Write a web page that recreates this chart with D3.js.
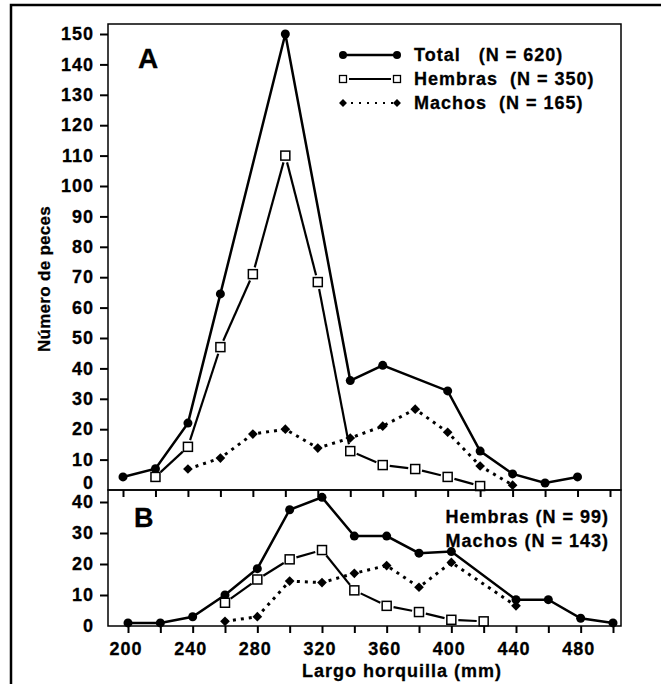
<!DOCTYPE html>
<html>
<head>
<meta charset="utf-8">
<script src="https://cdn.jsdelivr.net/npm/d3@7"></script>
<style>
body { margin: 0; background: #fff; }
text { font-family: "Liberation Sans", Arial, sans-serif; font-weight: bold; fill: #000; stroke: #000; stroke-width: 0.3px; }
</style>
</head>
<body>
<script>
// panel A: length classes and counts
const lengthsA = [200, 220, 240, 260, 280, 300, 320, 340, 360, 380, 400, 420, 440, 460, 480];
const totalA   = [4.3, 7, 22, 64.5, null, 150, null, 36, 41, null, 32.6, 12.8, 5.3, 2.3, 4.3];
const hembrasA = [null, 4.3, 14.2, 47, 71, 110, 68.4, 12.8, 8.2, 6.9, 4.3, 1.3, null, null, null];
const machosA  = [null, null, 6.9, 10.5, 18.4, 20, 13.8, 17.1, 21, 26.6, 19, 7.9, 1.6, null, null];

// panel B
const lengthsB = [200, 220, 240, 260, 280, 300, 320, 340, 360, 380, 400, 420, 440, 460, 480, 500];
const totalB   = [1, 1, 3, 10, 18.5, 37.5, 41.5, 29, 29, 23.5, 24, null, 8.5, 8.5, 2.5, 1];
const hembrasB = [null, null, null, 7.5, 15, 21.5, 24.5, 11.5, 6.5, 4.5, 2, 1.5, null, null, null, null];
const machosB  = [null, null, null, 1.5, 3, 14.5, 14, 17, 19.5, 12.5, 20.5, null, 6.5, null, null, null];

const yTicksA = [0, 10, 20, 30, 40, 50, 60, 70, 80, 90, 100, 110, 120, 130, 140, 150];
const yTicksB = [0, 10, 20, 30, 40];
const xLabels = [200, 240, 280, 320, 360, 400, 440, 480];

const legendA = [
    {key: 'total', label: 'Total   (N = 620)'},
    {key: 'hembras', label: 'Hembras  (N = 350)'},
    {key: 'machos', label: 'Machos  (N = 165)'}
];
const legendB = ['Hembras (N = 99)', 'Machos (N = 143)'];

const svg = d3.select('body').append('svg')
    .attr('width', 661)
    .attr('height', 684);

// outer frame
svg.append('rect')
    .attr('x', 11).attr('y', 5)
    .attr('width', 700).attr('height', 700)
    .attr('fill', 'none').attr('stroke', '#000').attr('stroke-width', 2.5);

const xA = d3.scaleLinear().domain([200, 500]).range([123, 610]);
const yA = d3.scaleLinear().domain([0, 150]).range([490, 34]);
const xB = d3.scaleLinear().domain([200, 500]).range([128, 613]);
const yB = d3.scaleLinear().domain([0, 40]).range([626, 502]);

const toPoints = (xs, ys) => xs.map((x, i) => ({x, y: ys[i]})).filter((d) => d.y !== null);

// bitmap-like bold font: Arial bold with a bit of extra tracking
const label = (sel, size) => sel.style('font-size', `${size}px`).style('letter-spacing', '1px');

function styleAxis(g) {
    g.select('.domain').remove();
    g.selectAll('.tick line').attr('stroke', '#000').attr('stroke-width', 2);
    g.selectAll('.tick text').attr('fill', '#000').call(label, 18);
}

function drawPanel(x, y, yTicks, top, series) {
    const g = svg.append('g');
    const [x0, x1] = [108, 621];
    const yb = y.range()[0];

    g.append('rect')
        .attr('x', x0).attr('y', top)
        .attr('width', x1 - x0).attr('height', yb - top)
        .attr('fill', 'none').attr('stroke', '#000').attr('stroke-width', 1.5);

    // y axis
    const ya = g.append('g')
        .attr('transform', `translate(${x0},0)`)
        .call(d3.axisLeft(y).tickValues(yTicks).tickSize(8).tickPadding(6))
        .call(styleAxis);
    ya.selectAll('.tick').filter((d) => d === 0).select('line').remove();

    // x ticks
    g.append('g')
        .attr('transform', `translate(0,${yb})`)
        .call(d3.axisBottom(x).tickValues(lengthsB).tickSize(7).tickFormat(''))
        .call(styleAxis);

    const line = d3.line().x((d) => x(d.x)).y((d) => y(d.y));

    // total
    const tot = toPoints(series.xs, series.total);
    g.append('path').datum(tot)
        .attr('d', line).attr('fill', 'none')
        .attr('stroke', '#000').attr('stroke-width', 2.5);

    // machos dotted
    const mac = toPoints(series.xs, series.machos);
    g.append('path').datum(mac)
        .attr('d', line).attr('fill', 'none')
        .attr('stroke', '#000').attr('stroke-width', 3)
        .attr('stroke-dasharray', '3,5');

    // hembras: segments with gaps at the markers
    const hem = toPoints(series.xs, series.hembras);
    const gap = 7;
    d3.pairs(hem).forEach(([p, q]) => {
        const ax = x(p.x), ay = y(p.y), bx = x(q.x), by = y(q.y);
        const len = Math.hypot(bx - ax, by - ay);
        if (len <= gap * 2 + 2) return;
        const ux = (bx - ax) / len, uy = (by - ay) / len;
        g.append('line')
            .attr('x1', ax + ux * gap).attr('y1', ay + uy * gap)
            .attr('x2', bx - ux * gap).attr('y2', by - uy * gap)
            .attr('stroke', '#000').attr('stroke-width', 2.2);
    });

    // markers
    g.selectAll('.m-total').data(tot).enter().append('circle')
        .attr('cx', (d) => x(d.x)).attr('cy', (d) => y(d.y))
        .attr('r', 4.5).attr('fill', '#000');
    g.selectAll('.m-mac').data(mac).enter().append('path')
        .attr('d', d3.symbol(d3.symbolDiamond2, 60))
        .attr('transform', (d) => `translate(${x(d.x)},${y(d.y)})`)
        .attr('fill', '#000');
    g.selectAll('.m-hem').data(hem).enter().append('rect')
        .attr('x', (d) => x(d.x) - 4.5).attr('y', (d) => y(d.y) - 4.5)
        .attr('width', 9).attr('height', 9)
        .attr('fill', '#fff').attr('stroke', '#000').attr('stroke-width', 1.5);

    return ya;
}

const yaA = drawPanel(xA, yA, yTicksA, 24, {xs: lengthsA, total: totalA, hembras: hembrasA, machos: machosA});
// the 0 label of panel A sits a little higher
yaA.selectAll('.tick').filter((d) => d === 0).select('text').attr('dy', '-0.1em');

drawPanel(xB, yB, yTicksB, 490, {xs: lengthsB, total: totalB, hembras: hembrasB, machos: machosB});

// x tick labels (panel B)
svg.append('g').selectAll('text').data(xLabels).enter().append('text')
    .attr('x', (d) => xB(d) - 2).attr('y', 655)
    .attr('text-anchor', 'middle')
    .call(label, 18)
    .text((d) => d);

// axis titles
svg.append('text')
    .attr('x', 402).attr('y', 677)
    .attr('text-anchor', 'middle')
    .call(label, 18)
    .text('Largo horquilla (mm)');

svg.append('text')
    .attr('transform', 'translate(50,279) rotate(-90)')
    .attr('text-anchor', 'middle')
    .style('font-size', '17px')
    .style('letter-spacing', '0.3px')
    .text('Número de peces');

// panel letters
svg.append('text').attr('x', 138).attr('y', 68).style('font-size', '28px').text('A');
svg.append('text').attr('x', 134).attr('y', 527).style('font-size', '27px').text('B');

// legend A
const lg = svg.append('g');
legendA.forEach((d, i) => {
    const ly = 55 + i * 24;
    const row = lg.append('g');
    if (d.key === 'total') {
        row.append('line').attr('x1', 343).attr('x2', 397).attr('y1', ly).attr('y2', ly)
            .attr('stroke', '#000').attr('stroke-width', 2.5);
        [343, 397].forEach((cx) => row.append('circle').attr('cx', cx).attr('cy', ly).attr('r', 4).attr('fill', '#000'));
    } else if (d.key === 'hembras') {
        row.append('line').attr('x1', 349).attr('x2', 391).attr('y1', ly).attr('y2', ly)
            .attr('stroke', '#000').attr('stroke-width', 2);
        [343, 397].forEach((cx) => row.append('rect').attr('x', cx - 3.5).attr('y', ly - 3.5)
            .attr('width', 7).attr('height', 7).attr('fill', '#fff')
            .attr('stroke', '#000').attr('stroke-width', 1.3));
    } else {
        row.append('line').attr('x1', 348).attr('x2', 393).attr('y1', ly).attr('y2', ly)
            .attr('stroke', '#000').attr('stroke-width', 2)
            .attr('stroke-dasharray', '2,6').attr('stroke-dashoffset', -3);
        [343, 397].forEach((cx) => row.append('path')
            .attr('d', d3.symbol(d3.symbolDiamond2, 40))
            .attr('transform', `translate(${cx},${ly})`).attr('fill', '#000'));
    }
    row.append('text')
        .attr('x', 414).attr('y', ly + 6)
        .call(label, 18)
        .style('white-space', 'pre')
        .text(d.label);
});

// legend B
svg.append('g').selectAll('text').data(legendB).enter().append('text')
    .attr('x', 609).attr('y', (d, i) => 523 + i * 24)
    .attr('text-anchor', 'end')
    .call(label, 18)
    .text((d) => d);
</script>
</body>
</html>
